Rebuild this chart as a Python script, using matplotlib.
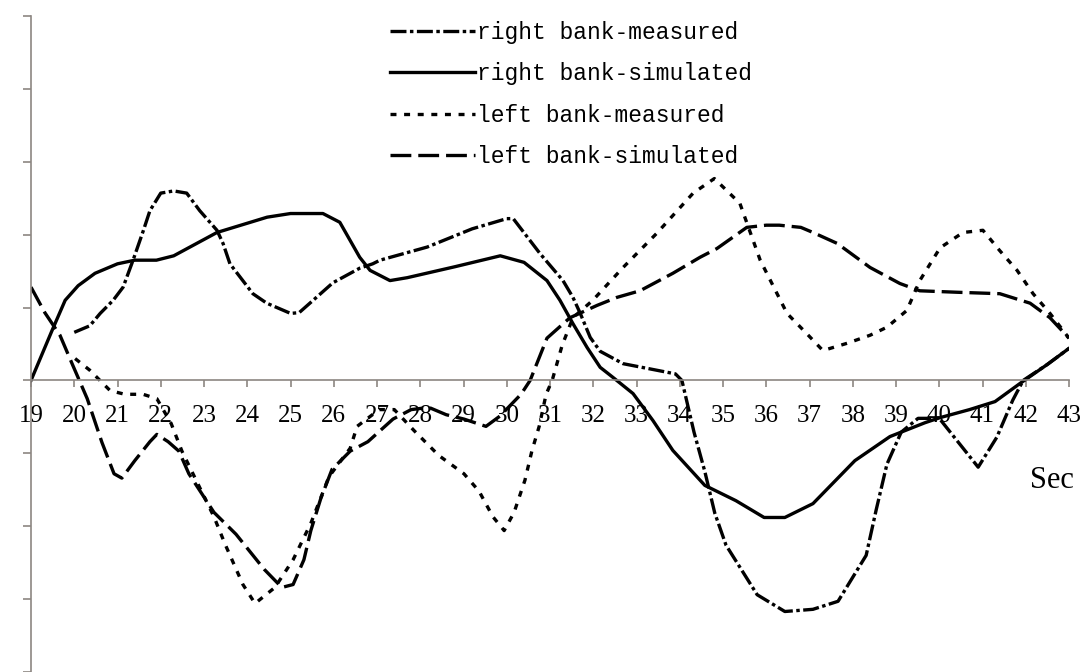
import numpy as np
import matplotlib
matplotlib.use("Agg")
import matplotlib.pyplot as plt

plt.rcParams['lines.scale_dashes'] = False

# right bank - simulated (solid)
rs_x = [19.0, 19.49, 19.79, 20.09, 20.48, 21.0, 21.4, 21.9, 22.3, 23.3, 24.46, 25.0, 25.75, 26.14,
        26.6, 26.84, 27.3, 27.7, 28.8, 29.85, 30.4, 30.93, 31.23, 31.53, 31.86, 32.16, 32.46, 32.92,
        33.38, 33.84, 34.58, 35.3, 35.95, 36.43, 37.08, 38.05, 38.86, 39.67, 40.02, 40.7, 41.29,
        41.87, 42.5, 43.0]
rs_y = [0.0, 0.69, 1.1, 1.3, 1.47, 1.6, 1.65, 1.65, 1.71, 2.03, 2.24, 2.29, 2.29, 2.17,
        1.69, 1.51, 1.37, 1.41, 1.56, 1.71, 1.62, 1.37, 1.1, 0.78, 0.45, 0.18, 0.04, -0.18,
        -0.55, -0.96, -1.44, -1.65, -1.88, -1.88, -1.69, -1.1, -0.77, -0.58, -0.51, -0.4, -0.29,
        -0.04, 0.22, 0.44]

# right bank - measured (dash dot)
rm_x = [20.0, 20.36, 20.6, 20.9, 21.13, 21.36, 21.6, 21.75, 22.0, 22.3, 22.6, 22.9, 23.3, 23.44,
        23.6, 24.13, 24.45, 25.0, 25.2, 25.6, 25.98, 26.6, 26.9, 27.07, 28.16, 29.2, 30.0, 30.15,
        30.77, 31.3, 31.53, 31.7, 31.93, 32.16, 32.69, 33.47, 33.9, 34.05, 34.33, 34.58, 34.81,
        35.07, 35.79, 36.43, 37.08, 37.66, 38.31, 38.54, 38.79, 39.12, 39.51, 40.0, 40.9, 41.33,
        41.7, 41.94, 42.5, 43.0]
rm_y = [0.66, 0.75, 0.92, 1.1, 1.28, 1.65, 2.06, 2.33, 2.57, 2.6, 2.57, 2.33, 2.06, 1.88,
        1.6, 1.19, 1.06, 0.92, 0.93, 1.14, 1.34, 1.54, 1.6, 1.65, 1.83, 2.08, 2.22, 2.22,
        1.74, 1.37, 1.14, 0.92, 0.59, 0.4, 0.23, 0.14, 0.09, 0.0, -0.71, -1.25, -1.82,
        -2.26, -2.94, -3.17, -3.14, -3.03, -2.4, -1.78, -1.15, -0.71, -0.52, -0.52, -1.19, -0.78,
        -0.27, 0.0, 0.22, 0.44]

# left bank - measured (short dash)
lm_x = [20.02, 20.36, 20.83, 21.17, 21.59, 21.91, 22.24, 22.49, 23.23, 23.49, 23.9, 24.18, 24.64,
        25.06, 25.47, 25.89, 26.38, 26.54, 27.05, 27.4, 27.86, 28.43, 29.01, 29.36, 29.68, 29.94,
        30.17, 30.42, 30.58, 30.75, 30.91, 31.05, 31.28, 31.53, 31.99, 32.69, 33.47, 34.31, 34.8,
        35.39, 35.86, 36.48, 36.94, 37.31, 37.87, 38.4, 38.79, 39.25, 39.55, 40.02, 40.55, 41.01,
        41.4, 41.8, 42.17, 42.56, 43.0]
lm_y = [0.3, 0.14, -0.14, -0.19, -0.19, -0.25, -0.59, -0.97, -1.87, -2.25, -2.8, -3.06, -2.84,
        -2.46, -1.96, -1.32, -0.93, -0.63, -0.4, -0.4, -0.69, -1.03, -1.28, -1.52, -1.87, -2.06,
        -1.81, -1.37, -0.97, -0.63, -0.19, 0.0, 0.48, 0.86, 1.1, 1.55, 2.02, 2.57, 2.77,
        2.43, 1.65, 0.92, 0.64, 0.41, 0.51, 0.62, 0.73, 0.96, 1.37, 1.82, 2.03, 2.06,
        1.78, 1.51, 1.19, 0.92, 0.58]

# left bank - simulated (long dash)
ls_x = [19.0, 19.32, 19.67, 19.95, 20.3, 20.64, 20.92, 21.1, 21.4, 21.75, 21.91, 22.17, 22.42,
        22.65, 23.23, 23.74, 24.39, 24.8, 25.06, 25.31, 25.47, 25.7, 25.96, 26.38, 26.79, 27.37,
        27.79, 28.2, 28.6, 29.01, 29.52, 29.84, 30.33, 30.54, 30.93, 31.46, 32.09, 32.55, 33.08,
        33.84, 34.47, 34.86, 35.55, 36.0, 36.3, 36.8, 37.08, 37.64, 38.4, 39.09, 39.55, 40.41,
        41.4, 42.1, 42.56, 43.0]
ls_y = [1.28, 0.93, 0.62, 0.23, -0.25, -0.85, -1.28, -1.34, -1.1, -0.84, -0.74, -0.84, -0.97,
        -1.28, -1.81, -2.11, -2.59, -2.84, -2.8, -2.46, -2.06, -1.62, -1.22, -0.97, -0.84, -0.53,
        -0.4, -0.37, -0.47, -0.53, -0.63, -0.49, -0.19, 0.0, 0.58, 0.86, 1.03, 1.14, 1.23,
        1.47, 1.69, 1.81, 2.1, 2.13, 2.13, 2.1, 2.03, 1.88, 1.55, 1.33, 1.23, 1.21,
        1.19, 1.06, 0.86, 0.58]

labels = ["right bank-measured", "right bank-simulated", "left bank-measured", "left bank-simulated"]
xticks = list(range(19, 44))

W, H = 1089, 672
fig = plt.figure(figsize=(W / 100, H / 100), dpi=100)
ax = fig.add_axes([31 / W, 0, (1069 - 31) / W, (672 - 16) / H])

lw = 2.4
ax.plot(rm_x, rm_y, color='black', lw=lw, linestyle=(0, (11.5, 2.5, 2.5, 2.5)), label=labels[0])
ax.plot(rs_x, rs_y, color='black', lw=lw, linestyle='-', label=labels[1])
ax.plot(lm_x, lm_y, color='black', lw=lw, linestyle=(0, (4.3, 5.5)), label=labels[2])
ax.plot(ls_x, ls_y, color='black', lw=lw, linestyle=(0, (15, 5)), label=labels[3])

ax.set_xlim(19, 43)
ax.set_ylim(-4, 5)

spine_col = '#8c8682'
for s in ['top', 'right']:
    ax.spines[s].set_visible(False)
ax.spines['bottom'].set_position(('data', 0))
ax.spines['bottom'].set_color(spine_col)
ax.spines['left'].set_color(spine_col)
ax.spines['bottom'].set_linewidth(1.2)
ax.spines['left'].set_linewidth(1.2)

ax.set_xticks(xticks)
ax.set_xticklabels([str(t) for t in xticks], fontfamily='Liberation Serif', fontsize=18)
ax.set_yticks(range(-4, 6))
ax.set_yticklabels([])
ax.tick_params(axis='x', direction='out', length=5, width=1.2, color=spine_col, pad=13)
ax.tick_params(axis='y', direction='out', length=6, width=1.2, color=spine_col)
ax.set_facecolor('none')

# axis unit label, lower right
fig.text(1052 / W, 1 - 481 / H, "Sec", ha='center', va='center',
         fontfamily='Liberation Serif', fontsize=22)

leg = fig.legend(loc='upper left', bbox_to_anchor=(390 / W, 1 - 21 / H),
                 bbox_transform=fig.transFigure, frameon=False,
                 prop={'family': 'Liberation Mono', 'size': 16.5},
                 handlelength=3.7, handletextpad=0.1, labelspacing=0.8,
                 borderpad=0, borderaxespad=0)

fig.savefig("out.png", dpi=100, facecolor='white')
